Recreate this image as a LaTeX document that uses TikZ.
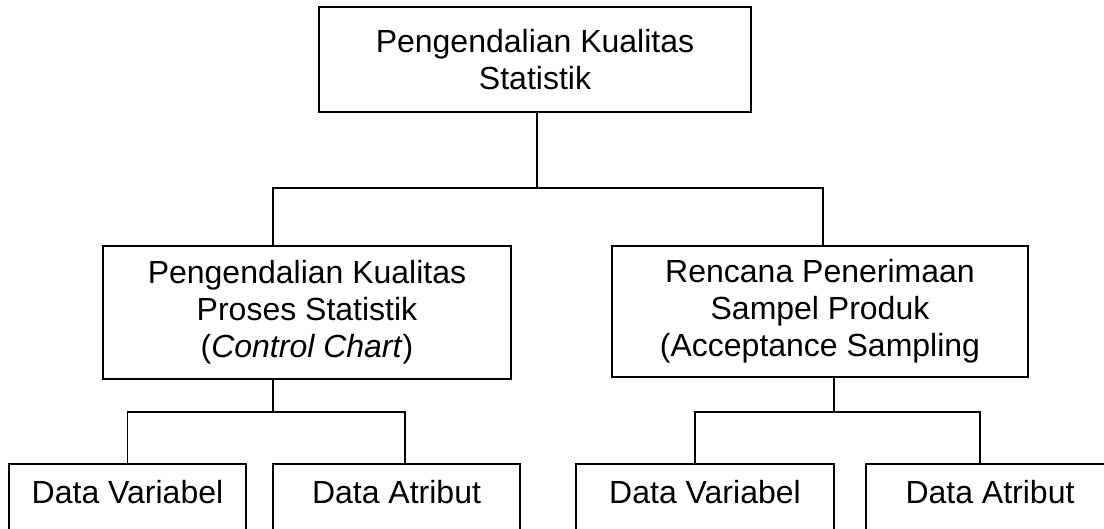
\documentclass[tikz,border=0pt]{standalone}
\usepackage{fontspec}
\setmainfont{Liberation Sans}
\usetikzlibrary{calc}

\tikzset{
  box/.style={draw=black, line width=1.6pt, align=center,
    font=\fontsize{32}{37}\selectfont, inner sep=0pt},
  leaf/.style={box, anchor=north, text height=23pt, text depth=40pt, inner ysep=17pt},
  conn/.style={draw=black, line width=1.6pt}
}

\begin{document}
\begin{tikzpicture}[x=1pt, y=-1pt]
  \useasboundingbox (0,0) rectangle (1104,529);
  \fill[white] (0,0) rectangle (1104,529);
  \clip (0,0) rectangle (1104,529);

  % root
  \node[box, minimum width=432, minimum height=105] (top) at (535,59.5)
    {Pengendalian Kualitas\\Statistik};

  % second level
  \node[box, minimum width=408, minimum height=133] (ml) at (307,312.5)
    {Pengendalian Kualitas\\Proses Statistik\\(\textit{Control Chart})};
  \node[box, minimum width=416, minimum height=131] (mr) at (820,311.5)
    {Rencana Penerimaan\\Sampel Produk\\(Acceptance Sampling};

  % leaves
  \node[leaf, minimum width=237] (b1) at (127.5,463) {Data Variabel};
  \node[leaf, minimum width=247] (b2) at (396.5,463) {Data Atribut};
  \node[leaf, minimum width=258] (b3) at (705,463) {Data Variabel};
  \node[leaf, minimum width=248] (b4) at (990,463) {Data Atribut};

  % junction points
  \coordinate (hub) at (537,188);
  \coordinate (hl) at (273,412);
  \coordinate (hr) at (834,412);

  % connectors
  \draw[conn] (top.south -| hub) -- (hub);
  \draw[conn] ([xshift=-34]ml.north) |- (hub) -| ([xshift=3]mr.north);

  \draw[conn] ([xshift=-34]ml.south) -- (hl);
  \draw[conn] (b1.north) |- (hl) -| ([xshift=8.5]b2.north);

  \draw[conn] ([xshift=14]mr.south) -- (hr);
  \draw[conn] ([xshift=-10]b3.north) |- (hr) -| ([xshift=-10]b4.north);
\end{tikzpicture}
\end{document}
